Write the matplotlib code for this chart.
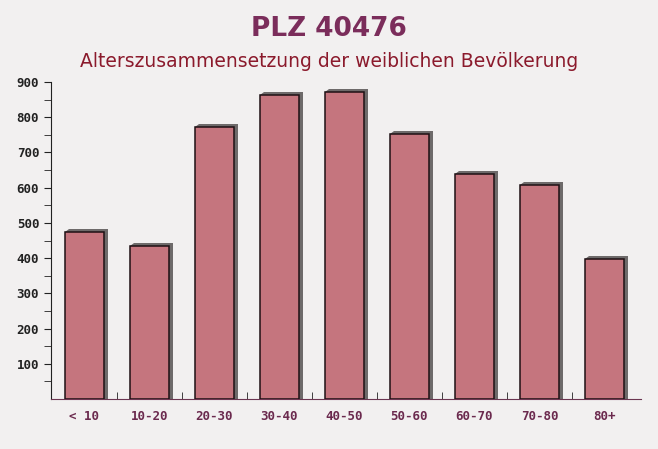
import matplotlib.pyplot as plt
from matplotlib.patches import Polygon

# Data
categories = ["< 10", "10-20", "20-30", "30-40", "40-50", "50-60", "60-70", "70-80", "80+"]
values = [474, 434, 772, 862, 871, 752, 638, 607, 397]
yticks = [100, 200, 300, 400, 500, 600, 700, 800, 900]

fig = plt.figure(figsize=(6.58, 4.49), dpi=100)
fig.patch.set_facecolor("#f2f0f0")
ax = fig.add_axes([51 / 658, 50 / 449, 590 / 658, 317 / 449])
ax.set_facecolor("none")

x = list(range(len(categories)))
width = 0.6

# shadow behind each bar (offset up-right)
dx, dy = 0.065, 10
for xi, v in zip(x, values):
    left, right = xi - width / 2, xi + width / 2
    shadow = Polygon([(left + dx, v + dy), (right + dx, v + dy), (right + dx, 0),
                      (right, 0), (right, v), (left, v)],
                     closed=True, facecolor="#6e6a6a", edgecolor="none", zorder=2)
    ax.add_patch(shadow)

ax.bar(x, values, width=width, color="#c5757e", edgecolor="#1e1014",
       linewidth=1.1, zorder=3)

ax.set_xlim(-0.51, 8.56)
ax.set_ylim(0, 900)
ax.set_yticks(yticks)
ax.set_yticks([50 + 100 * i for i in range(9)], minor=True)
ax.set_xticks(x)
ax.set_xticklabels(categories)
ax.set_xticks([i + 0.5 for i in range(8)], minor=True)

for s in ["top", "right"]:
    ax.spines[s].set_visible(False)
ax.spines["left"].set_color("#222222")
ax.spines["bottom"].set_color("#6b3550")

ax.tick_params(axis="y", which="major", direction="out", length=5, color="#222222",
               labelsize=9, labelcolor="#222222")
ax.tick_params(axis="y", which="minor", direction="out", length=5, color="#222222")
ax.tick_params(axis="x", which="major", length=0, pad=8, labelsize=9, labelcolor="#6b2a4e")
ax.tick_params(axis="x", which="minor", direction="in", length=5, color="#222222")
for lab in ax.get_xticklabels() + ax.get_yticklabels():
    lab.set_family("DejaVu Sans Mono")
    lab.set_fontweight("bold")

fig.text(0.5, 0.935, "PLZ 40476", ha="center", va="center", fontsize=19,
         fontweight="bold", color="#7b2d5b", family="DejaVu Sans")
fig.text(0.5, 0.862, "Alterszusammensetzung der weiblichen Bevölkerung", ha="center",
         va="center", fontsize=13.5, color="#8b1a2c", family="DejaVu Sans")

plt.savefig("out.png", dpi=100, facecolor=fig.get_facecolor())
